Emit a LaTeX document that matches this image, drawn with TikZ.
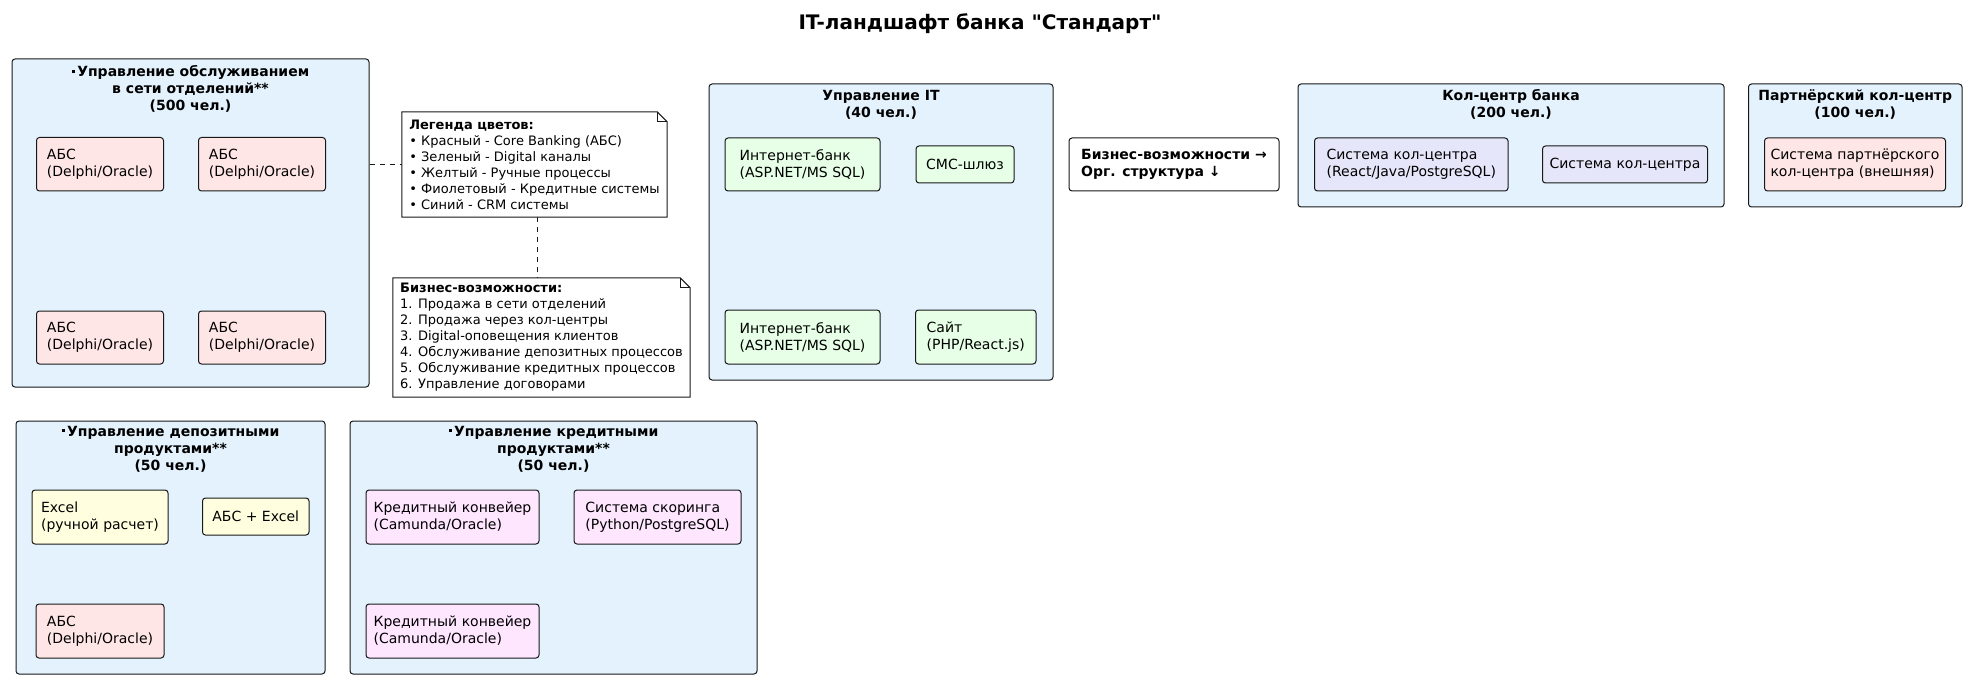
\documentclass[tikz,border=0pt]{standalone}
\usepackage{fontspec}
\setmainfont{DejaVu Sans}
\newfontfamily\titlefont{DejaVu Sans}
\definecolor{contfill}{HTML}{E3F2FD}
\definecolor{redfill}{HTML}{FFE6E6}
\definecolor{greenfill}{HTML}{E6FFE6}
\definecolor{yellowfill}{HTML}{FFFFE0}
\definecolor{purplefill}{HTML}{FFE6FF}
\definecolor{lavfill}{HTML}{E6E6FA}
\definecolor{edge}{HTML}{181818}
\newcommand{\sqbul}{\raisebox{4pt}{\rule{3pt}{3pt}}\hspace{2.5pt}}
\tikzset{
  cont/.style={draw=edge, fill=contfill, line width=1pt, rounded corners=3pt, inner sep=0pt},
  conttitle/.style={align=center, inner sep=0pt, font=\fontsize{14}{17}\selectfont\bfseries},
  sys/.style={draw=edge, line width=1pt, rounded corners=3pt, inner sep=0pt, align=left, font=\fontsize{14}{17}\selectfont},
  notebox/.style={inner sep=0pt, align=left, font=\fontsize{13}{16}\selectfont},
  notelink/.style={draw=edge, line width=1pt, dash pattern=on 5pt off 5pt},
}
\newcommand{\notefold}[1]{%
  \draw[draw=edge, line width=1pt, fill=white] (#1.north west) -- ([xshift=-10pt]#1.north east) -- ([yshift=-10pt]#1.north east) -- (#1.south east) -- (#1.south west) -- cycle;
  \draw[draw=edge, line width=1pt] ([xshift=-10pt]#1.north east) -- ([xshift=-10pt,yshift=-10pt]#1.north east) -- ([yshift=-10pt]#1.north east);}
\begin{document}
\begin{tikzpicture}[x=1pt,y=-1pt]
\useasboundingbox (0,0) rectangle (1967,679);
\fill[white] (0,0) rectangle (1967,679);

% title
\node[font=\titlefont\fontsize{20}{24}\selectfont\bfseries, inner sep=0pt] (title) at (980,24) {IT-ландшафт банка "Стандарт"};

% ---- Box A: обслуживание
\node[cont, minimum width=357pt, minimum height=328pt] (boxA) at (190.5,223) {};
\node[conttitle] (boxAt) at (190.5,89) {\sqbul Управление обслуживанием\\в сети отделений**\\(500 чел.)};
\node[sys, fill=redfill, minimum width=127pt, minimum height=53.5pt] (a1) at (100,164.25) {АБС\\(Delphi/Oracle)};
\node[sys, fill=redfill, minimum width=127pt, minimum height=53.5pt] (a2) at (262,164.25) {АБС\\(Delphi/Oracle)};
\node[sys, fill=redfill, minimum width=127pt, minimum height=53pt] (a3) at (100,337.5) {АБС\\(Delphi/Oracle)};
\node[sys, fill=redfill, minimum width=127pt, minimum height=53pt] (a4) at (262,337.5) {АБС\\(Delphi/Oracle)};

% ---- Legend note
\node[notebox, minimum width=265pt, minimum height=105pt] (leg) at (534.5,164.5) {};
\notefold{leg}
\node[notebox] (legt) at (leg.center) {\textbf{Легенда цветов:}\\• Красный - Core Banking (АБС)\\• Зеленый - Digital каналы\\• Желтый - Ручные процессы\\• Фиолетовый - Кредитные системы\\• Синий - CRM системы};

% ---- Business capabilities note
\node[notebox, minimum width=297pt, minimum height=119pt] (bn) at (541.5,337.5) {};
\notefold{bn}
\node[notebox] (bnt) at (bn.center) {\textbf{Бизнес-возможности:}\\1. Продажа в сети отделений\\2. Продажа через кол-центры\\3. Digital-оповещения клиентов\\4. Обслуживание депозитных процессов\\5. Обслуживание кредитных процессов\\6. Управление договорами};

\draw[notelink] (leg.west -| boxA.east) -- (leg.west);
\draw[notelink] ([xshift=3pt]leg.south) -- ([xshift=3pt]leg.south |- bn.north);

% ---- IT box
\node[cont, minimum width=344pt, minimum height=296pt] (boxIT) at (881,232) {};
\node[conttitle] (boxITt) at (881,104.5) {Управление IT\\(40 чел.)};
\node[sys, fill=greenfill, minimum width=155pt, minimum height=53pt] (it1) at (802.5,164.5) {Интернет-банк\\(ASP.NET/MS SQL)};
\node[sys, fill=greenfill, minimum width=98pt, minimum height=37pt, align=center] (it2) at (965,164.5) {СМС-шлюз};
\node[sys, fill=greenfill, minimum width=155pt, minimum height=54pt] (it3) at (802.5,337) {Интернет-банк\\(ASP.NET/MS SQL)};
\node[sys, fill=greenfill, minimum width=120.5pt, minimum height=54pt] (it4) at (975.75,337) {Сайт\\(PHP/React.js)};

% ---- Business/Org box
\node[sys, fill=white, minimum width=210pt, minimum height=53pt, font=\fontsize{14}{17}\selectfont\bfseries] (bizorg) at (1174,164.5) {Бизнес-возможности →\\Орг. структура ↓};

% ---- Call centre
\node[cont, minimum width=426pt, minimum height=123pt] (boxK) at (1511,145.5) {};
\node[conttitle] (boxKt) at (1511,104.5) {Кол-центр банка\\(200 чел.)};
\node[sys, fill=lavfill, minimum width=193.5pt, minimum height=53pt] (k1) at (1411.25,164.5) {Система кол-центра\\(React/Java/PostgreSQL)};
\node[sys, fill=lavfill, minimum width=165pt, minimum height=37pt, align=center] (k2) at (1625,164.5) {Система кол-центра};

% ---- Partner call centre
\node[cont, minimum width=213.5pt, minimum height=123pt] (boxP) at (1855.25,145.5) {};
\node[conttitle] (boxPt) at (1855.25,104.5) {Партнёрский кол-центр\\(100 чел.)};
\node[sys, fill=redfill, minimum width=181pt, minimum height=53pt] (p1) at (1855,164.5) {Система партнёрского\\кол-центра (внешняя)};

% ---- Deposit box
\node[cont, minimum width=309pt, minimum height=253pt] (boxD) at (170.5,547.5) {};
\node[conttitle] (boxDt) at (170.5,449) {\sqbul Управление депозитными\\продуктами**\\(50 чел.)};
\node[sys, fill=yellowfill, minimum width=136pt, minimum height=54pt] (d1) at (100,517) {Excel\\(ручной расчет)};
\node[sys, fill=yellowfill, minimum width=106.5pt, minimum height=37pt, align=center] (d2) at (255.75,516.5) {АБС + Excel};
\node[sys, fill=redfill, minimum width=128pt, minimum height=54pt] (d3) at (100,631) {АБС\\(Delphi/Oracle)};

% ---- Credit box
\node[cont, minimum width=407pt, minimum height=253pt] (boxC) at (553.5,547.5) {};
\node[conttitle] (boxCt) at (553.5,449) {\sqbul Управление кредитными\\продуктами**\\(50 чел.)};
\node[sys, fill=purplefill, minimum width=173pt, minimum height=54pt] (c1) at (452.5,517) {Кредитный конвейер\\(Camunda/Oracle)};
\node[sys, fill=purplefill, minimum width=167pt, minimum height=54pt] (c2) at (657.5,517) {Система скоринга\\(Python/PostgreSQL)};
\node[sys, fill=purplefill, minimum width=173pt, minimum height=54pt] (c3) at (452.5,631) {Кредитный конвейер\\(Camunda/Oracle)};
\end{tikzpicture}
\end{document}
